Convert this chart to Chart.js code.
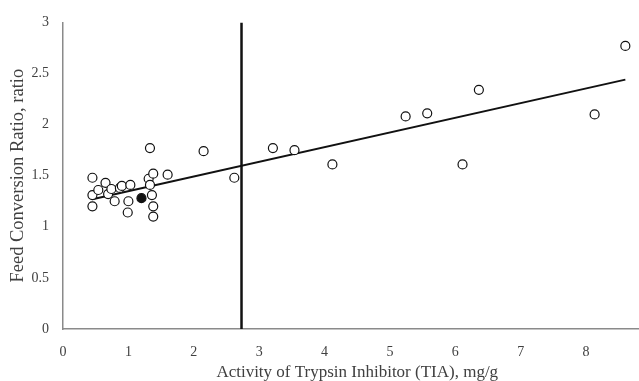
<!DOCTYPE html>
<html>
<head>
<meta charset="utf-8">
<script src="https://cdn.jsdelivr.net/npm/chart.js@4/dist/chart.umd.min.js"></script>
<style>
    html, body { margin: 0; padding: 0; background: #fff; overflow: hidden; }
    #wrap { width: 670px; height: 381px; }
</style>
</head>
<body>
<div id="wrap"><canvas id="myChart" width="670" height="381"></canvas></div>
<script>
// open circles: TIA (mg/g) vs FCR
const tiaOpen = [0.45, 0.65, 0.45, 0.45, 0.54, 0.69, 0.74, 0.79, 0.87, 0.90, 1.03, 1.00, 0.99,
    1.31, 1.33, 1.36, 1.38, 1.38, 1.38, 1.60, 1.33,
    2.15, 2.62, 3.21, 3.54, 4.12, 5.24, 5.57, 6.36, 6.11, 8.13, 8.60];
const fcrOpen = [1.48, 1.43, 1.31, 1.20, 1.36, 1.32, 1.37, 1.25, 1.38, 1.40, 1.41, 1.25, 1.14,
    1.47, 1.41, 1.31, 1.20, 1.10, 1.52, 1.51, 1.77,
    1.74, 1.48, 1.77, 1.75, 1.61, 2.08, 2.11, 2.34, 1.61, 2.10, 2.77];

// filled point
const tiaFilled = [1.20];
const fcrFilled = [1.28];

// linear trend line
const trendX = [0.45, 8.60];
const trendY = [1.27, 2.44];

// vertical threshold line
const thresholdX = 2.73;
const yRange = [0, 3];

const xTicks = [0, 1, 2, 3, 4, 5, 6, 7, 8, 9];

const ctx = document.getElementById("myChart");
const serif = "'Liberation Serif', 'Times New Roman', serif";

const chart = new Chart(ctx, {
    type: "scatter",
    data: {
        datasets: [
            {
                label: "threshold",
                type: "line",
                data: yRange.map(v => ({ x: thresholdX, y: v })),
                borderColor: "#111",
                borderWidth: 2.5,
                pointRadius: 0,
                order: 3,
            },
            {
                label: "trend",
                type: "line",
                data: trendX.map((v, i) => ({ x: v, y: trendY[i] })),
                borderColor: "#111",
                borderWidth: 2,
                pointRadius: 0,
                order: 2,
            },
            {
                label: "open",
                data: tiaOpen.map((v, i) => ({ x: v, y: fcrOpen[i] })),
                pointRadius: 4.5,
                pointBackgroundColor: "#fff",
                pointBorderColor: "#111",
                pointBorderWidth: 1.2,
                order: 1,
            },
            {
                label: "filled",
                data: tiaFilled.map((v, i) => ({ x: v, y: fcrFilled[i] })),
                pointRadius: 4.5,
                pointBackgroundColor: "#111",
                pointBorderColor: "#111",
                pointBorderWidth: 1.2,
                order: 0,
            },
        ],
    },
    options: {
        responsive: false,
        animation: false,
        layout: {
            padding: { top: 18, right: 15, left: 0, bottom: 0 },
        },
        scales: {
            x: {
                type: "linear",
                min: 0,
                max: 9,
                afterBuildTicks: (axis) => {
                    axis.ticks = xTicks.map(v => ({ value: v }));
                },
                afterFit: (axis) => { axis.height = 52; },
                grid: { display: false, drawTicks: false },
                border: { color: "#8a8a8a", width: 1.5 },
                ticks: {
                    padding: 15,
                    color: "#404040",
                    font: { family: serif, size: 14 },
                },
                title: {
                    display: true,
                    text: "Activity of Trypsin Inhibitor (TIA), mg/g",
                    color: "#404040",
                    font: { family: serif, size: 17 },
                    padding: { top: 0, bottom: -2 },
                },
            },
            y: {
                min: 0,
                max: 3,
                afterFit: (axis) => { axis.width = 63; },
                grid: { display: false, drawTicks: false },
                border: { color: "#8a8a8a", width: 1.5 },
                ticks: {
                    stepSize: 0.5,
                    padding: 14,
                    color: "#404040",
                    font: { family: serif, size: 14 },
                    callback: (v) => String(v),
                },
                title: {
                    display: true,
                    text: "Feed Conversion Ratio, ratio",
                    color: "#404040",
                    font: { family: serif, size: 18.5 },
                    padding: { top: 7, bottom: 0 },
                },
            },
        },
        plugins: {
            legend: { display: false },
            tooltip: { enabled: false },
        },
    },
});
</script>
</body>
</html>
